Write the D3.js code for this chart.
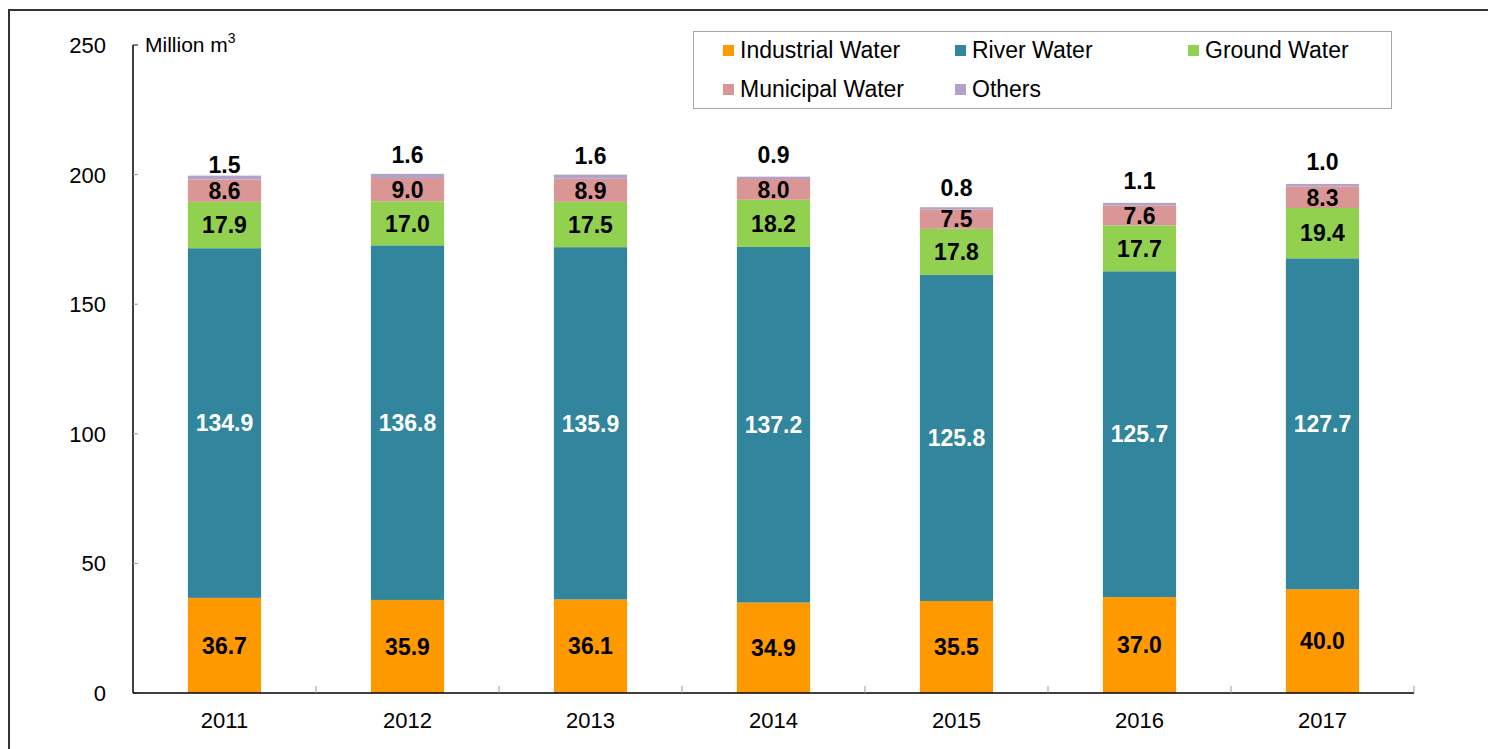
<!DOCTYPE html>
<html>
<head>
<meta charset="utf-8">
<script src="https://cdn.jsdelivr.net/npm/d3@7"></script>
<style>
  body { margin: 0; background: #fff; }
  svg { display: block; font-family: Arial, "Liberation Sans", sans-serif; }
</style>
</head>
<body>
<div id="chart"></div>
<script>
var years = ["2011", "2012", "2013", "2014", "2015", "2016", "2017"];
var industrial = [36.7, 35.9, 36.1, 34.9, 35.5, 37.0, 40.0];
var river = [134.9, 136.8, 135.9, 137.2, 125.8, 125.7, 127.7];
var ground = [17.9, 17.0, 17.5, 18.2, 17.8, 17.7, 19.4];
var municipal = [8.6, 9.0, 8.9, 8.0, 7.5, 7.6, 8.3];
var others = [1.5, 1.6, 1.6, 0.9, 0.8, 1.1, 1.0];
var seriesNames = ["Industrial Water", "River Water", "Ground Water", "Municipal Water", "Others"];
var yTicks = [0, 50, 100, 150, 200, 250];

var keys = ["industrial", "river", "ground", "municipal", "others"];
var colors = ["#ff9900", "#31859c", "#92d050", "#da9694", "#b3a2c7"];
var labelColors = ["#000", "#fff", "#000", "#000", "#000"];
// the "Others" labels sit at hand-placed heights above each bar (px)
var topLabelGap = [3, 11, 11, 14, 11, 14, 14];

var width = 1488, height = 749;

var svg = d3.select("#chart")
    .append("svg")
    .attr("width", width)
    .attr("height", height);

// outer frame (runs off the right and bottom edge)
svg.append("rect")
    .attr("x", 9).attr("y", 10)
    .attr("width", 1600).attr("height", 900)
    .attr("fill", "none")
    .attr("stroke", "#333")
    .attr("stroke-width", 2);

var table = years.map(function (y, i) {
    return {
        year: y,
        industrial: industrial[i],
        river: river[i],
        ground: ground[i],
        municipal: municipal[i],
        others: others[i]
    };
});

var stacked = d3.stack().keys(keys)(table);

var x = d3.scaleBand()
    .domain(years)
    .range([133, 1414])
    .paddingInner(0.6)
    .paddingOuter(0.3);

var y = d3.scaleLinear()
    .domain([0, 250])
    .range([693, 45]);

// bars
var layers = svg.append("g").selectAll("g")
    .data(stacked)
    .join("g")
    .attr("fill", function (d, i) { return colors[i]; });

layers.selectAll("rect")
    .data(function (d) { return d; })
    .join("rect")
    .attr("x", function (d) { return x(d.data.year); })
    .attr("y", function (d) { return y(d[1]); })
    .attr("width", x.bandwidth())
    .attr("height", function (d) { return y(d[0]) - y(d[1]); });

// value labels
stacked.forEach(function (layer, li) {
    var isTop = li === keys.length - 1;
    svg.append("g").selectAll("text")
        .data(layer)
        .join("text")
        .attr("x", function (d) { return x(d.data.year) + x.bandwidth() / 2; })
        .attr("y", function (d, i) {
            if (isTop) return y(d[1]) - topLabelGap[i];
            return (y(d[0]) + y(d[1])) / 2;
        })
        .attr("dy", isTop ? 0 : "0.36em")
        .attr("text-anchor", "middle")
        .attr("font-size", 23)
        .attr("font-weight", "bold")
        .attr("fill", labelColors[li])
        .text(function (d) { return (d[1] - d[0]).toFixed(1); });
});

// y axis
var yAxis = svg.append("g");
yAxis.append("line")
    .attr("x1", 133).attr("x2", 133)
    .attr("y1", y(250)).attr("y2", y(0))
    .attr("stroke", "#000").attr("stroke-width", 1.5);
yAxis.selectAll(".tick")
    .data(yTicks)
    .join("line")
    .attr("x1", 133).attr("x2", 138)
    .attr("y1", function (d) { return y(d); })
    .attr("y2", function (d) { return y(d); })
    .attr("stroke", function (d) { return d === 250 ? "#000" : "#999"; })
    .attr("stroke-width", 1);
yAxis.selectAll("text")
    .data(yTicks)
    .join("text")
    .attr("x", 106)
    .attr("y", function (d) { return y(d); })
    .attr("dy", "0.36em")
    .attr("text-anchor", "end")
    .attr("font-size", 22)
    .attr("fill", "#000")
    .text(function (d) { return d; });

// unit label
var unit = svg.append("text")
    .attr("x", 145)
    .attr("y", y(250) + 7)
    .attr("font-size", 21)
    .attr("fill", "#000");
unit.append("tspan").text("Million m");
unit.append("tspan").attr("font-size", 14).attr("dy", -9).text("3");

// x axis
var xAxis = svg.append("g");
xAxis.append("line")
    .attr("x1", 133).attr("x2", 1414)
    .attr("y1", y(0)).attr("y2", y(0))
    .attr("stroke", "#000").attr("stroke-width", 1.5);
var step = x.step();
var boundaries = years.map(function (d) { return x(d) - x.paddingOuter() * step + step; });
xAxis.selectAll(".tick")
    .data(boundaries)
    .join("line")
    .attr("x1", function (d) { return d; })
    .attr("x2", function (d) { return d; })
    .attr("y1", y(0)).attr("y2", y(0) - 7)
    .attr("stroke", "#999");
xAxis.selectAll("text")
    .data(years)
    .join("text")
    .attr("x", function (d) { return x(d) + x.bandwidth() / 2; })
    .attr("y", 728)
    .attr("text-anchor", "middle")
    .attr("font-size", 22)
    .attr("fill", "#000")
    .text(function (d) { return d; });

// legend
var legend = svg.append("g");
legend.append("rect")
    .attr("x", 693.5).attr("y", 31.5)
    .attr("width", 698).attr("height", 77)
    .attr("fill", "#fff")
    .attr("stroke", "#a6a6a6");
var legendCols = [723, 955, 1188];
var legendRows = [58, 97];
var items = legend.selectAll("g")
    .data(seriesNames)
    .join("g")
    .attr("transform", function (d, i) {
        return "translate(" + legendCols[i % 3] + "," + legendRows[Math.floor(i / 3)] + ")";
    });
items.append("rect")
    .attr("x", 0).attr("y", -13)
    .attr("width", 11).attr("height", 11)
    .attr("fill", function (d, i) { return colors[i]; });
items.append("text")
    .attr("x", 17)
    .attr("y", 0)
    .attr("font-size", 23)
    .attr("fill", "#000")
    .text(function (d) { return d; });
</script>
</body>
</html>
